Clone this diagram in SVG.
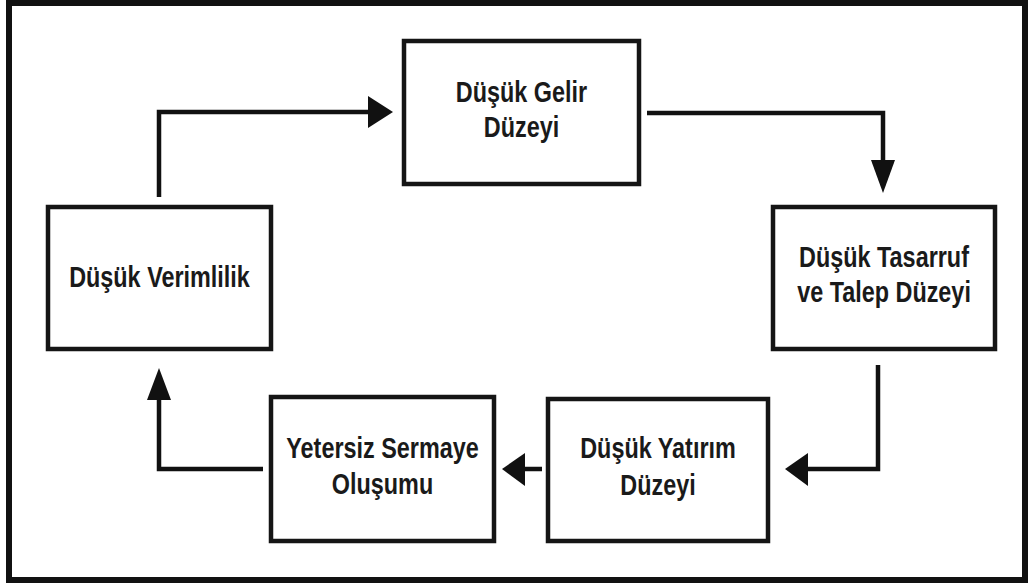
<svg xmlns="http://www.w3.org/2000/svg" width="1030" height="585" viewBox="0 0 1030 585">
<style>
.frame{fill:#fff;stroke:#111;stroke-width:6}
.box{fill:#fff;stroke:#151515;stroke-width:4.5}
.lbl{font-family:"Liberation Sans",Arial,sans-serif;font-weight:bold;font-size:30px;fill:#1a1a1a;text-anchor:middle}
.ln{fill:none;stroke:#111;stroke-width:4.5;stroke-linejoin:miter;stroke-linecap:butt}
.ah{fill:#111;stroke:none}
</style>
<rect class="frame" x="9" y="3" width="1016" height="577"/>
<g id="connectors">
  <path class="ln" d="M159,197 V112 H370"/>
  <polygon class="ah" points="368,96 393,112 368,128"/>
  <path class="ln" d="M647,113 H883 V162"/>
  <polygon class="ah" points="871,160 895,160 883,193"/>
  <path class="ln" d="M878,365 V469 H805"/>
  <polygon class="ah" points="808,453 808,486 785,469"/>
  <path class="ln" d="M542,469 H523"/>
  <polygon class="ah" points="525,453 525,486 502,469"/>
  <path class="ln" d="M263,469 H159 V398"/>
  <polygon class="ah" points="147,400 171,400 159,368"/>
</g>
<g id="n1">
  <rect class="box" x="404" y="41" width="235" height="143"/>
  <text class="lbl" transform="translate(521.5,102) scale(0.78,1)">Düşük Gelir</text>
  <text class="lbl" transform="translate(521.5,137) scale(0.78,1)">Düzeyi</text>
</g>
<g id="n2">
  <rect class="box" x="773" y="207" width="222" height="142"/>
  <text class="lbl" transform="translate(884,267) scale(0.78,1)">Düşük Tasarruf</text>
  <text class="lbl" transform="translate(884,302) scale(0.78,1)">ve Talep Düzeyi</text>
</g>
<g id="n3">
  <rect class="box" x="548" y="399" width="220" height="142"/>
  <text class="lbl" transform="translate(658,458) scale(0.78,1)">Düşük Yatırım</text>
  <text class="lbl" transform="translate(658,495) scale(0.78,1)">Düzeyi</text>
</g>
<g id="n4">
  <rect class="box" x="271" y="397" width="223" height="144"/>
  <text class="lbl" transform="translate(382.5,458) scale(0.78,1)">Yetersiz Sermaye</text>
  <text class="lbl" transform="translate(382.5,494) scale(0.78,1)">Oluşumu</text>
</g>
<g id="n5">
  <rect class="box" x="48" y="207" width="223" height="142"/>
  <text class="lbl" transform="translate(159.5,287) scale(0.78,1)">Düşük Verimlilik</text>
</g>
</svg>
